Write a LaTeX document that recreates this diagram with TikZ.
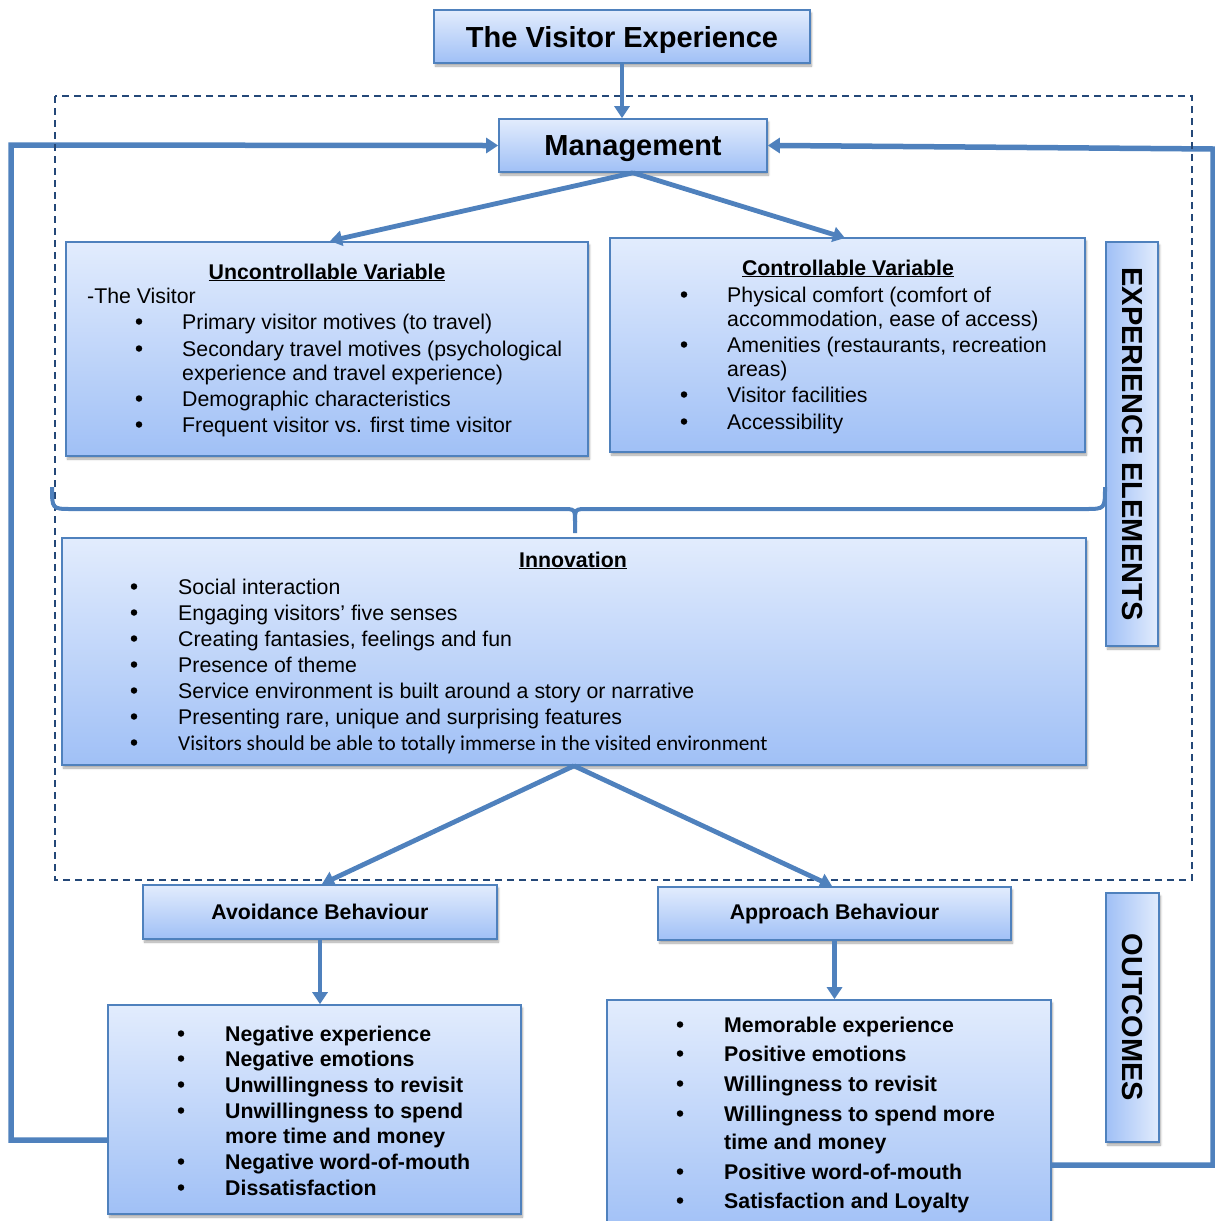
\documentclass[tikz,border=0pt]{standalone}
\usepackage{fontspec}
\setmainfont{Liberation Sans}
\newfontfamily\calibrifont{Carlito}
\usetikzlibrary{arrows.meta,shadows.blur}
\definecolor{edge}{RGB}{79,129,189}
\definecolor{topfill}{RGB}{226,236,253}
\definecolor{botfill}{RGB}{160,192,246}
\definecolor{dashblue}{RGB}{36,72,120}

\tikzset{
  softshadow/.style={blur shadow={shadow xshift=1.5pt, shadow yshift=-3pt, shadow blur steps=6, shadow opacity=35}},
  box/.style={draw=edge, line width=1.6pt, top color=topfill, bottom color=botfill, inner sep=0pt, softshadow},
  sidebox/.style={draw=edge, line width=1.6pt, left color=botfill, right color=topfill, inner sep=0pt, softshadow},
  conn/.style={draw=edge, line width=4.8pt, -{Triangle[width=15pt,length=12pt]}},
  loopline/.style={draw=edge, line width=5.5pt, line join=miter},
  item/.style={anchor=base west, inner sep=0pt, font=\fontsize{21.3}{25}\selectfont},
  bolditem/.style={item, font=\fontsize{21.3}{25}\selectfont\bfseries},
  bul/.style={circle, fill=black, inner sep=0pt, minimum size=6.5pt},
  heading/.style={anchor=base, inner sep=0pt, font=\fontsize{21.3}{25}\selectfont\bfseries},
  bigtext/.style={font=\fontsize{29}{34}\selectfont\bfseries},
}
% bulleted line: name, bullet x, text x, baseline y, style, text
\newcommand{\entry}[6]{%
  \node[bul] (#1b) at (#2,#4-7.5) {};
  \node[#5] (#1) at (#3,#4) {#6};}

\begin{document}
\begin{tikzpicture}[x=1pt,y=-1pt]
\useasboundingbox (0,0) rectangle (1215,1221);

% boxes
\node[box, minimum width=376pt, minimum height=53pt, bigtext, text depth=0pt] (title) at (622,36.5) {The Visitor Experience};
\node[box, minimum width=268pt, minimum height=53pt, bigtext, text depth=0pt] (mgmt) at (633,145.5) {Management};
\node[box, minimum width=522pt, minimum height=214pt] (unc) at (327,349) {};
\node[box, minimum width=475pt, minimum height=214pt] (ctl) at (847.5,345) {};
\node[sidebox, minimum width=52pt, minimum height=404pt] (expel) at (1132,444) {};
\node[box, minimum width=1024pt, minimum height=227pt] (innov) at (574,651.5) {};
\node[box, minimum width=354pt, minimum height=54pt, font=\fontsize{21.3}{25}\selectfont\bfseries] (avoid) at (320,912) {Avoidance Behaviour};
\node[box, minimum width=353pt, minimum height=53pt, font=\fontsize{21.3}{25}\selectfont\bfseries] (appr) at (834.5,913.5) {Approach Behaviour};
\node[box, minimum width=413pt, minimum height=209pt] (avlist) at (314.5,1109.5) {};
\node[box, minimum width=444pt, minimum height=235pt] (aplist) at (829,1117.5) {};
\node[sidebox, minimum width=53pt, minimum height=249pt] (outc) at (1132.5,1017.5) {};

% feedback loops into Management
\coordinate (l1) at (11,1140);
\coordinate (l2) at (11,145);
\coordinate (r1) at (1213,1165);
\coordinate (r2) at (1213,149);
\draw[loopline] (avlist.west |- l1) -- (l1) -- (l2) -- ([xshift=-12pt]mgmt.west);
\draw[loopline] (aplist.east |- r1) -- (r1) -- (r2) -- ([xshift=12pt]mgmt.east);
\draw[conn] ([xshift=-14pt]mgmt.west) -- (mgmt.west);
\draw[conn] ([xshift=14pt]mgmt.east) -- (mgmt.east);

% experience elements frame
\draw[dashblue, line width=1.3pt, dash pattern=on 7pt off 5pt] (55,96) rectangle (1192,880);

% connectors
\draw[conn] (title.south) -- (title.south |- mgmt.north);
\draw[conn] (mgmt.south) -- (330,241);
\draw[conn] (mgmt.south) -- (845,238);
\draw[conn] (innov.south) -- (322,884);
\draw[conn] (innov.south) -- (832,886);
\draw[conn] (avoid.south) -- (avoid.south |- avlist.north);
\draw[conn] (appr.south) -- (appr.south |- aplist.north);

% bracket gathering both variables into innovation
\coordinate (bl) at (52,487);
\coordinate (br) at (1105,487);
\coordinate (bm) at (575,533);
\draw[edge, line width=4pt]
  (bl) .. controls (52,509) .. (72,509) -- (562,509)
  .. controls (575,509) .. (575,522) -- (bm);
\draw[edge, line width=4pt]
  (575,522) .. controls (575,509) .. (588,509) -- (1085,509)
  .. controls (1105,509) .. (br);

% side labels
\node[bigtext, rotate=-90] (expeltext) at (expel.center) {EXPERIENCE ELEMENTS};
\node[bigtext, rotate=-90] (outctext) at (outc.center) {OUTCOMES};

% uncontrollable variable
\node[heading] (unch) at (327,279) {\underline{Uncontrollable Variable}};
\node[item] (uncv) at (87,303) {-The Visitor};
\entry{u1}{139}{182}{329}{item}{Primary visitor motives (to travel)}
\entry{u2}{139}{182}{356}{item}{Secondary travel motives (psychological}
\node[item] (u2c) at (182,380) {experience and travel experience)};
\entry{u3}{139}{182}{406}{item}{Demographic characteristics}
\entry{u4}{139}{182}{432}{item}{Frequent visitor vs. first time visitor}

% controllable variable
\node[heading] (ctlh) at (848,275) {\underline{Controllable Variable}};
\entry{c1}{684}{727}{302}{item}{Physical comfort (comfort of}
\node[item] (c1c) at (727,326) {accommodation, ease of access)};
\entry{c2}{684}{727}{352}{item}{Amenities (restaurants, recreation}
\node[item] (c2c) at (727,376) {areas)};
\entry{c3}{684}{727}{402}{item}{Visitor facilities}
\entry{c4}{684}{727}{429}{item}{Accessibility}

% innovation
\node[heading] (innovh) at (573,567) {\underline{Innovation}};
\entry{i1}{134}{178}{594}{item}{Social interaction}
\entry{i2}{134}{178}{620}{item}{Engaging visitors’ five senses}
\entry{i3}{134}{178}{646}{item}{Creating fantasies, feelings and fun}
\entry{i4}{134}{178}{672}{item}{Presence of theme}
\entry{i5}{134}{178}{698}{item}{Service environment is built around a story or narrative}
\entry{i6}{134}{178}{724}{item}{Presenting rare, unique and surprising features}
\entry{i7}{134}{178}{750}{item, font=\fontsize{21.3}{25}\calibrifont}{Visitors should be able to totally immerse in the visited environment}

% avoidance outcomes
\entry{a1}{181}{225}{1041}{bolditem}{Negative experience}
\entry{a2}{181}{225}{1066}{bolditem}{Negative emotions}
\entry{a3}{181}{225}{1092}{bolditem}{Unwillingness to revisit}
\entry{a4}{181}{225}{1118}{bolditem}{Unwillingness to spend}
\node[bolditem] (a4c) at (225,1143) {more time and money};
\entry{a5}{181}{225}{1169}{bolditem}{Negative word-of-mouth}
\entry{a6}{181}{225}{1195}{bolditem}{Dissatisfaction}

% approach outcomes
\entry{p1}{680}{724}{1032}{bolditem}{Memorable experience}
\entry{p2}{680}{724}{1061}{bolditem}{Positive emotions}
\entry{p3}{680}{724}{1091}{bolditem}{Willingness to revisit}
\entry{p4}{680}{724}{1121}{bolditem}{Willingness to spend more}
\node[bolditem] (p4c) at (724,1149) {time and money};
\entry{p5}{680}{724}{1179}{bolditem}{Positive word-of-mouth}
\entry{p6}{680}{724}{1208}{bolditem}{Satisfaction and Loyalty}
\end{tikzpicture}
\end{document}
